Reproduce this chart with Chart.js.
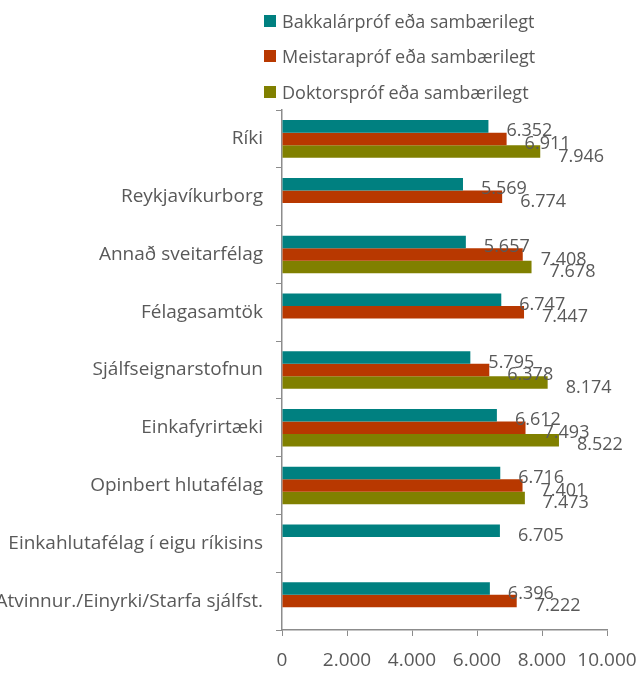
<!DOCTYPE html>
<html>
<head>
<meta charset="utf-8">
<script src="https://cdn.jsdelivr.net/npm/chart.js@4"></script>
<style>
  body { margin: 0; background: #fff; }
  #wrap { position: relative; width: 640px; height: 674px; }
  #legend { position: absolute; left: 264px; top: 3px; font: 18px "Open Sans"; color: #595959; }
  .item { display: flex; align-items: center; height: 35.5px; }
  .box { width: 12px; height: 12px; margin-right: 6px; }
</style>
</head>
<body>
<div id="wrap">
  <canvas id="chart" width="640" height="674"></canvas>
  <div id="legend"></div>
</div>
<script>
const categories = ['Ríki', 'Reykjavíkurborg', 'Annað sveitarfélag', 'Félagasamtök', 'Sjálfseignarstofnun',
  'Einkafyrirtæki', 'Opinbert hlutafélag', 'Einkahlutafélag í eigu ríkisins', 'Atvinnur./Einyrki/Starfa sjálfst.']
const seriesNames = ['Bakkalárpróf eða sambærilegt', 'Meistarapróf eða sambærilegt', 'Doktorspróf eða sambærilegt']
const bakkalar = [6352, 5569, 5657, 6747, 5795, 6612, 6716, 6705, 6396]
const meistara = [6911, 6774, 7408, 7447, 6378, 7493, 7401, null, 7222]
const doktors = [7946, null, 7678, null, 8174, 8522, 7473, null, null]
const xTicks = [0, 2000, 4000, 6000, 8000, 10000]

const colors = ['#008080', '#b83800', '#808000']
const textColor = '#595959'
const axisColor = '#8c8c8c'
const fontFamily = '"Open Sans"'

const fmt = v => String(v).replace(/\B(?=(\d{3})+(?!\d))/g, '.')

// data labels, nudged right/down like the original
const valueLabels = {
  id: 'valueLabels',
  afterDatasetsDraw(chart) {
    const ctx = chart.ctx
    ctx.save()
    ctx.font = '18px ' + fontFamily
    ctx.fillStyle = textColor
    ctx.textBaseline = 'middle'
    ctx.textAlign = 'left'
    chart.data.datasets.forEach((ds, i) => {
      chart.getDatasetMeta(i).data.forEach((bar, j) => {
        if (ds.data[j] == null) return
        ctx.fillText(fmt(ds.data[j]), bar.x + 18, bar.y + 5)
      })
    })
    ctx.restore()
  }
}

const chart = new Chart(document.getElementById('chart'), {
  type: 'bar',
  data: {
    labels: categories,
    datasets: [bakkalar, meistara, doktors].map((d, i) => ({
      label: seriesNames[i],
      data: d,
      backgroundColor: colors[i],
      categoryPercentage: 0.65,
      barPercentage: 1.0
    }))
  },
  options: {
    indexAxis: 'y',
    responsive: false,
    animation: false,
    layout: { padding: { top: 110, right: 33, left: 0, bottom: 0 } },
    plugins: { legend: { display: false }, tooltip: { enabled: false } },
    scales: {
      x: {
        min: 0, max: 10000,
        afterBuildTicks: s => { s.ticks = xTicks.map(v => ({ value: v })) },
        afterFit: s => { s.height = 44; s.paddingRight = 0; s.paddingLeft = 0 },
        ticks: { color: textColor, font: { family: fontFamily, size: 19 }, padding: 13, autoSkip: false, maxRotation: 0, callback: v => fmt(v) },
        grid: { drawOnChartArea: false, drawTicks: true, tickLength: 6, color: axisColor },
        border: { color: axisColor, width: 1.5 }
      },
      y: {
        afterFit: s => { s.width = 282 },
        ticks: { color: textColor, font: { family: fontFamily, size: 19 }, padding: 13 },
        grid: { drawOnChartArea: false, drawTicks: true, tickLength: 6, color: axisColor, offset: true },
        border: { color: axisColor, width: 1.5 }
      }
    }
  },
  plugins: [valueLabels]
})

// legend stacked vertically above the plot
document.getElementById('legend').innerHTML = chart.data.datasets.map(ds =>
  `<div class="item"><span class="box" style="background:${ds.backgroundColor}"></span>${ds.label}</div>`).join('')
</script>
</body>
</html>
